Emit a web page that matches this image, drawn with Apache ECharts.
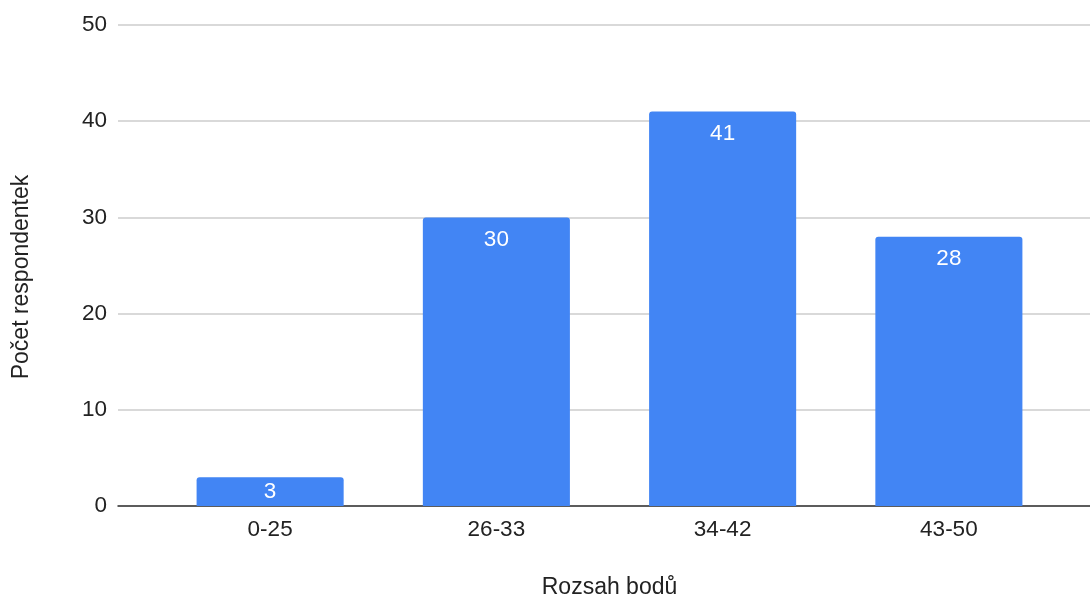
<!DOCTYPE html>
<html>
<head>
<meta charset="utf-8">
<script src="https://cdn.jsdelivr.net/npm/echarts@6/dist/echarts.min.js"></script>
<style>
html,body{margin:0;padding:0;background:#fff;}
#chart{width:1090px;height:596px;}
</style>
</head>
<body>
<div id="chart"></div>
<script>
const categories = ['0-25', '26-33', '34-42', '43-50'];
const counts = [3, 30, 41, 28];
const yMin = 0;
const yMax = 50;
const yStep = 10;
const xTitle = 'Rozsah bodů';
const yTitle = 'Počet respondentek';

const FONT = "'Liberation Sans', Arial, sans-serif";
const chart = echarts.init(document.getElementById('chart'), null, {renderer: 'canvas'});
chart.setOption({
  animation: false,
  backgroundColor: '#ffffff',
  textStyle: {fontFamily: FONT},
  grid: [
    {left: 118, right: 0, top: 25, bottom: 90, containLabel: false, outerBoundsMode: 'none'},
    {left: 157, right: 28, top: 25, bottom: 90, containLabel: false, outerBoundsMode: 'none'}
  ],
  xAxis: [
    {
      gridIndex: 0, type: 'value', min: 0, max: 1,
      axisLine: {show: true, lineStyle: {color: '#333333', width: 1.5}},
      axisTick: {show: false}, axisLabel: {show: false}, splitLine: {show: false}
    },
    {
      gridIndex: 1, type: 'category', data: categories, boundaryGap: true,
      axisLine: {show: false}, axisTick: {show: false},
      axisLabel: {fontSize: 22.5, color: '#222222', margin: 12, fontFamily: FONT},
      name: xTitle, nameLocation: 'middle', nameGap: 70,
      nameTextStyle: {fontSize: 23, color: '#222222', fontFamily: FONT}
    }
  ],
  yAxis: [
    {
      gridIndex: 0, type: 'value', min: yMin, max: yMax, interval: yStep,
      axisLine: {show: false}, axisTick: {show: false},
      axisLabel: {fontSize: 22.5, color: '#222222', margin: 11, fontFamily: FONT},
      splitLine: {show: true, lineStyle: {color: '#cccccc', width: 1.5}}
    },
    {
      gridIndex: 1, type: 'value', min: yMin, max: yMax, interval: yStep,
      show: false
    }
  ],
  graphic: [
    {
      type: 'text', x: 22, y: 277, rotation: Math.PI / 2,
      style: {text: yTitle, fontSize: 23, fill: '#222222', fontFamily: FONT, align: 'center', verticalAlign: 'middle'}
    }
  ],
  series: [
    {
      type: 'bar', xAxisIndex: 1, yAxisIndex: 1,
      data: counts.map(v => v < 5 ? {value: v, label: {position: 'inside'}} : v),
      barCategoryGap: '35%',
      itemStyle: {color: '#4285F4', borderRadius: [3, 3, 0, 0]},
      label: {show: true, position: 'insideTop', distance: 11, color: '#ffffff', fontSize: 22.5, fontFamily: FONT}
    }
  ]
});
</script>
</body>
</html>
